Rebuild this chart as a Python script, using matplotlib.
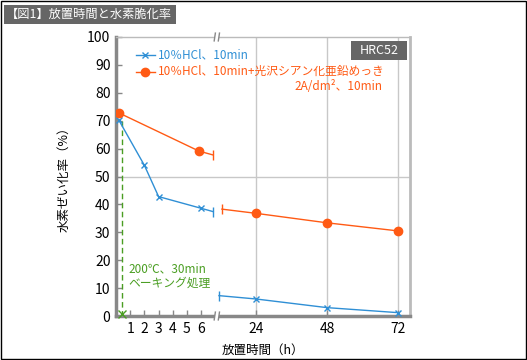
import numpy as np
import matplotlib.pyplot as plt
from matplotlib.patches import Rectangle

plt.rcParams['font.family'] = ['Noto Sans CJK JP', 'DejaVu Sans']

# data
hcl_left_x = [0.2, 2, 3, 6]
hcl_left_y = [70.2, 54, 42.8, 38.6]
hcl_right_x = [24, 48, 72]
hcl_right_y = [6.1, 3.0, 1.2]
zn_left_x = [0.2, 5.85]
zn_left_y = [72.8, 59.1]
zn_right_x = [24, 48, 72]
zn_right_y = [36.8, 33.4, 30.5]
# where the lines stop at the axis break
hcl_cut_x = [6.85, 11.5]
hcl_cut_y = [37.4, 7.3]
zn_cut_x = [6.85, 12.5]
zn_cut_y = [57.7, 38.3]
bake_x = [0.45, 0.45]
bake_y = [70, 0.8]
xticks = [1, 2, 3, 4, 5, 6, 24, 48, 72]
yticks = list(range(0, 101, 10))

blue = '#2f8fd5'
orange = '#ff5a14'
green = '#4a9e22'

# broken x axis: 0-7 h stretched, 11-76 h compressed
xs = [-100, 7.1, 11.0, 1000]
us = [-1420, 100.8, 101.5, 140 + 976 * 2.96]
fwd = lambda x: np.interp(x, xs, us)
inv = lambda u: np.interp(u, us, xs)

fig = plt.figure(figsize=(5.27, 3.6), dpi=100)
ax = fig.add_axes([116/527, 1-316/360, 294/527, 279/360])
ax.set_xscale('function', functions=(fwd, inv))
ax.set_xlim(0, 76.05)
ax.set_ylim(0, 100)

# grid
ax.axhline(50, color='#c8c8c8', lw=1, zorder=1)
for v in [24, 48, 72]:
    ax.axvline(v, color='#c8c8c8', lw=1, zorder=1)

# series
ax.plot(hcl_left_x + [hcl_cut_x[0]], hcl_left_y + [hcl_cut_y[0]], '-', color=blue, lw=1, zorder=3)
ax.plot(hcl_left_x, hcl_left_y, 'x', color=blue, ms=5, mew=1, zorder=4)
ax.plot([hcl_cut_x[1]] + hcl_right_x, [hcl_cut_y[1]] + hcl_right_y, '-', color=blue, lw=1, zorder=3)
ax.plot(hcl_right_x, hcl_right_y, 'x', color=blue, ms=5, mew=1, zorder=4, clip_on=False)
ax.plot(hcl_cut_x, hcl_cut_y, '|', color=blue, ms=7, mew=1, zorder=4)

ax.plot(zn_left_x + [zn_cut_x[0]], zn_left_y + [zn_cut_y[0]], '-', color=orange, lw=1, zorder=3)
ax.plot(zn_left_x, zn_left_y, 'o', color=orange, ms=6, zorder=4)
ax.plot([zn_cut_x[1]] + zn_right_x, [zn_cut_y[1]] + zn_right_y, '-', color=orange, lw=1, zorder=3)
ax.plot(zn_right_x, zn_right_y, 'o', color=orange, ms=6, zorder=4)
ax.plot(zn_cut_x, zn_cut_y, '|', color=orange, ms=7, mew=1, zorder=4)

# baking treatment
ax.plot(bake_x, bake_y, '--', color=green, lw=1, dashes=(4, 2.5), zorder=2)
ax.plot(bake_x[1:], bake_y[1:], 'x', color=green, ms=6, mew=1, zorder=5, clip_on=False)
ax.text(0.85, 16.8, '200℃、30min', color=green, fontsize=8.5, va='center')
ax.text(0.85, 11.8, 'ベーキング処理', color=green, fontsize=8.5, va='center')

# legend drawn by hand
ax.plot([0.068, 0.133], [0.935, 0.935], '-', color=blue, lw=1, transform=ax.transAxes)
ax.plot([0.1], [0.935], 'x', color=blue, ms=5, mew=1, transform=ax.transAxes)
ax.text(0.143, 0.935, '10％HCl、10min', color=blue, fontsize=8.5, va='center', transform=ax.transAxes)
ax.plot([0.068, 0.133], [0.876, 0.876], '-', color=orange, lw=1, transform=ax.transAxes)
ax.plot([0.1], [0.876], 'o', color=orange, ms=6, transform=ax.transAxes)
ax.text(0.143, 0.876, '10％HCl、10min+光沢シアン化亜鉛めっき', color=orange, fontsize=8.5,
        va='center', transform=ax.transAxes)
ax.text(0.905, 0.824, '2A/dm²、10min', color=orange, fontsize=8.5, va='center', ha='right',
        transform=ax.transAxes)

# HRC box
ax.add_patch(Rectangle((0.799, 0.918), 0.191, 0.068, transform=ax.transAxes,
                       facecolor='#666666', edgecolor='none', zorder=5))
ax.text(0.8945, 0.952, 'HRC52', color='white', fontsize=9, ha='center', va='center',
        transform=ax.transAxes, zorder=6)

# axes styling
for s in ['left', 'bottom']:
    ax.spines[s].set_color('#888888')
    ax.spines[s].set_linewidth(2.5)
ax.spines['top'].set_color('#bbbbbb')
ax.spines['top'].set_linewidth(1)
ax.spines['right'].set_color('#bbbbbb')
ax.spines['right'].set_linewidth(2)

ax.set_xticks(xticks)
ax.set_xticklabels([str(t) for t in xticks])
ax.set_yticks(yticks)
ax.tick_params(direction='in', length=4, width=1, color='#888888', labelsize=10, pad=4)
ax.xaxis.set_minor_locator(plt.NullLocator())

# break marks on the x axis (bottom and top)
for yb in [0, 1]:
    ax.add_patch(Rectangle((0.336, yb - 0.012), 0.016, 0.024, transform=ax.transAxes,
                           facecolor='white', edgecolor='none', zorder=6, clip_on=False))
    for xb in [0.336, 0.350]:
        ax.plot([xb - 0.002, xb + 0.002], [yb - 0.014, yb + 0.014], color='#888888', lw=1,
                transform=ax.transAxes, zorder=7, clip_on=False)

ax.set_ylabel('水素ぜい化率（%）', fontsize=9, labelpad=12)
ax.set_xlabel('放置時間（h）', fontsize=9, labelpad=6)

# title box
fig.patches.append(Rectangle((4/527, 1-24/360), 172/527, 19/360, transform=fig.transFigure,
                             facecolor='#666666', edgecolor='none'))
fig.text(6/527, 1-14.5/360, '【図1】放置時間と水素脆化率', color='white', fontsize=8.8, va='center')
# outer frame
fig.patches.append(Rectangle((0.001, 0.0015), 0.998, 0.997, transform=fig.transFigure,
                             facecolor='none', edgecolor='black', lw=1))

fig.savefig('out.png', dpi=100)
